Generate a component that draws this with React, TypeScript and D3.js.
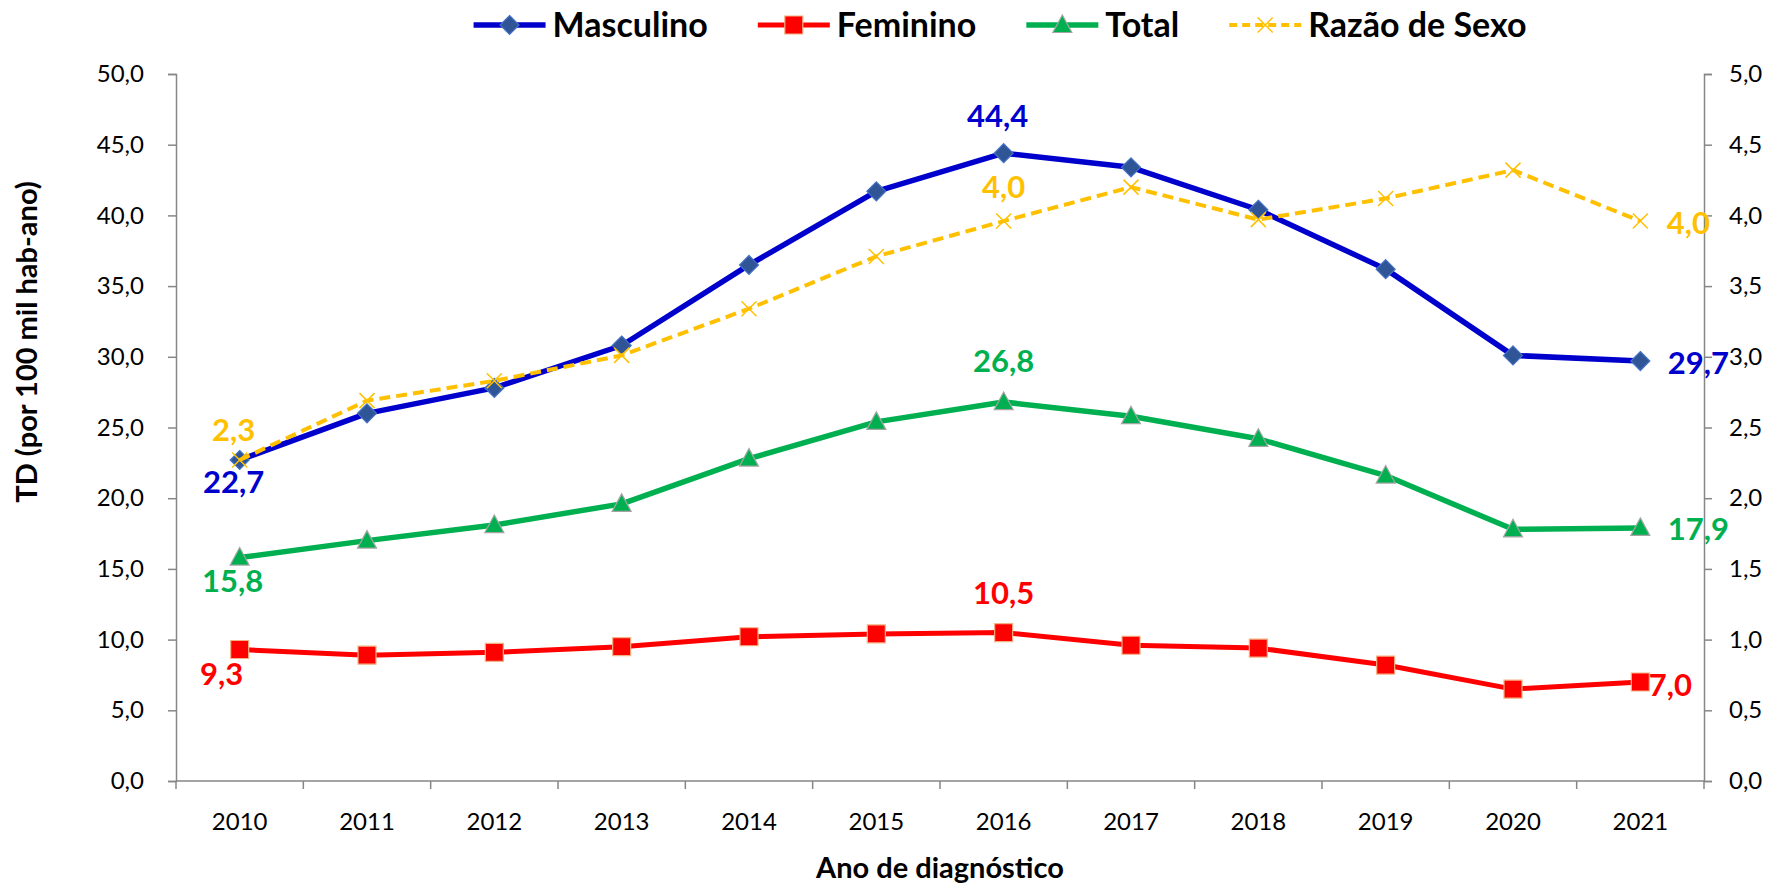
import React, { useEffect, useRef } from 'react';
import * as d3 from 'd3';

const years = ['2010', '2011', '2012', '2013', '2014', '2015', '2016', '2017', '2018', '2019', '2020', '2021'];
const masculino = [22.7, 26.0, 27.8, 30.8, 36.5, 41.7, 44.4, 43.4, 40.4, 36.2, 30.1, 29.7];
const feminino = [9.3, 8.9, 9.1, 9.5, 10.2, 10.4, 10.5, 9.6, 9.4, 8.2, 6.5, 7.0];
const total = [15.8, 17.0, 18.1, 19.6, 22.8, 25.4, 26.8, 25.8, 24.2, 21.6, 17.8, 17.9];
const razaoSexo = [2.27, 2.69, 2.83, 3.01, 3.34, 3.71, 3.96, 4.2, 3.97, 4.12, 4.32, 3.96];
const leftTicks = [0, 5, 10, 15, 20, 25, 30, 35, 40, 45, 50];
const rightTicks = [0, 0.5, 1, 1.5, 2, 2.5, 3, 3.5, 4, 4.5, 5];

// which points carry a value label, and where the label sits relative to the point
const labelSpots = [
  { series: 'Masculino', i: 0, dx: -6, dy: 22 },
  { series: 'Masculino', i: 6, dx: -6, dy: -37 },
  { series: 'Masculino', i: 11, dx: 58, dy: 2 },
  { series: 'Feminino', i: 0, dx: -18, dy: 25 },
  { series: 'Feminino', i: 6, dx: 0, dy: -39 },
  { series: 'Feminino', i: 11, dx: 30, dy: 3 },
  { series: 'Total', i: 0, dx: -7, dy: 24 },
  { series: 'Total', i: 6, dx: 0, dy: -41 },
  { series: 'Total', i: 11, dx: 58, dy: 1 },
  { series: 'Razão de Sexo', i: 0, dx: -6, dy: -30 },
  { series: 'Razão de Sexo', i: 6, dx: 0, dy: -34 },
  { series: 'Razão de Sexo', i: 11, dx: 48, dy: 2 },
];

const FONT = 'Lato, "Open Sans", sans-serif';
const fmt = (v: number) => d3.format('.1f')(v).replace('.', ',');

const markerPath: Record<string, string> = {
  diamond: 'M0,-9.5L9.5,0L0,9.5L-9.5,0Z',
  square: 'M-9,-9H9V9H-9Z',
  triangle: 'M0,-10L9.5,7.5L-9.5,7.5Z',
  cross: 'M-7.5,-7.5L7.5,7.5M7.5,-7.5L-7.5,7.5',
};

const App = () => {
  const svgRef = useRef<SVGSVGElement>(null);

  useEffect(() => {
    const svg = d3.select(svgRef.current);
    svg.selectAll('*').remove();

    const W = 1767;
    const H = 883;
    const margin = { top: 74, right: 63, bottom: 102, left: 176 };
    const plotW = W - margin.left - margin.right;
    const plotH = H - margin.top - margin.bottom;

    const x = d3.scaleBand().domain(years).range([0, plotW]).padding(0);
    const yLeft = d3.scaleLinear().domain([0, 50]).range([plotH, 0]);
    const yRight = d3.scaleLinear().domain([0, 5]).range([plotH, 0]);
    const cx = (d: string) => (x(d) as number) + x.bandwidth() / 2;

    const series = [
      { name: 'Masculino', values: masculino, y: yLeft, color: '#0000CC', width: 5.5, dash: null, marker: 'diamond', fill: '#2F5597', stroke: '#4472C4' },
      { name: 'Feminino', values: feminino, y: yLeft, color: '#FF0000', width: 5, dash: null, marker: 'square', fill: '#FF0000', stroke: '#F4B183' },
      { name: 'Total', values: total, y: yLeft, color: '#00B050', width: 5.5, dash: null, marker: 'triangle', fill: '#00B050', stroke: '#A5A5A5' },
      { name: 'Razão de Sexo', values: razaoSexo, y: yRight, color: '#FFC000', width: 4, dash: '11,6', marker: 'cross', fill: 'none', stroke: '#FFC000' },
    ];

    const g = svg.append('g').attr('transform', `translate(${margin.left},${margin.top})`);
    const axisColor = '#868686';
    const tickFont = 24;

    // left axis
    const la = g.append('g').call(d3.axisLeft(yLeft).tickValues(leftTicks).tickSize(8).tickPadding(24).tickFormat((d) => fmt(+d)));
    la.select('.domain').attr('stroke', axisColor).attr('stroke-width', 1.5);
    la.selectAll('.tick line').attr('stroke', axisColor).attr('stroke-width', 1.5);
    la.selectAll('.tick text').attr('font-family', FONT).attr('font-size', tickFont).attr('fill', '#000');

    // right axis
    const ra = g.append('g').attr('transform', `translate(${plotW},0)`)
      .call(d3.axisRight(yRight).tickValues(rightTicks).tickSize(8).tickPadding(17).tickFormat((d) => fmt(+d)));
    ra.select('.domain').attr('stroke', axisColor).attr('stroke-width', 1.5);
    ra.selectAll('.tick line').attr('stroke', axisColor).attr('stroke-width', 1.5);
    ra.selectAll('.tick text').attr('font-family', FONT).attr('font-size', tickFont).attr('fill', '#000');

    // x axis: ticks on category boundaries
    const xa = g.append('g').attr('transform', `translate(0,${plotH})`);
    xa.append('line').attr('x1', 0).attr('x2', plotW).attr('stroke', axisColor).attr('stroke-width', 1.5);
    const bounds = years.map((d) => x(d) as number).concat([plotW]);
    xa.selectAll('line.tk').data(bounds).join('line').attr('class', 'tk')
      .attr('x1', (d) => d).attr('x2', (d) => d).attr('y1', 0).attr('y2', 8)
      .attr('stroke', axisColor).attr('stroke-width', 1.5);
    xa.selectAll('text').data(years).join('text')
      .attr('x', (d) => cx(d)).attr('y', 41).attr('dy', '0.35em')
      .attr('text-anchor', 'middle').attr('font-family', FONT).attr('font-size', tickFont).text((d) => d);

    // axis titles
    svg.append('text').attr('x', margin.left + plotW / 2).attr('y', 878)
      .attr('text-anchor', 'middle').attr('font-family', FONT).attr('font-weight', 'bold').attr('font-size', 29)
      .text('Ano de diagnóstico');
    svg.append('text').attr('transform', 'translate(27,342) rotate(-90)')
      .attr('text-anchor', 'middle').attr('dy', '0.35em').attr('font-family', FONT).attr('font-weight', 'bold').attr('font-size', 29)
      .text('TD (por 100 mil hab-ano)');

    // lines and markers
    series.forEach((s) => {
      const line = d3.line<number>().x((_, i) => cx(years[i])).y((v) => s.y(v));
      g.append('path').datum(s.values).attr('fill', 'none').attr('stroke', s.color)
        .attr('stroke-width', s.width).attr('stroke-dasharray', s.dash).attr('stroke-linejoin', 'round')
        .attr('d', line);
      g.append('g').selectAll('path').data(s.values).join('path')
        .attr('transform', (v, i) => `translate(${cx(years[i])},${s.y(v)})`)
        .attr('d', markerPath[s.marker])
        .attr('fill', s.fill).attr('stroke', s.stroke)
        .attr('stroke-width', s.marker === 'cross' ? 1.5 : 1.2);
    });

    // value labels
    labelSpots.forEach((l) => {
      const s = series.find((d) => d.name === l.series)!;
      const v = s.values[l.i];
      g.append('text')
        .attr('x', cx(years[l.i]) + l.dx).attr('y', s.y(v) + l.dy).attr('dy', '0.35em')
        .attr('text-anchor', 'middle').attr('font-family', FONT).attr('font-weight', 'bold').attr('font-size', 31)
        .attr('fill', s.color).text(fmt(v));
    });

    // legend, centred above the plot
    const lg = svg.append('g').attr('transform', 'translate(0,25)');
    const items = series.map((s) => {
      const it = lg.append('g');
      it.append('line').attr('x1', 0).attr('x2', 72).attr('stroke', s.color).attr('stroke-width', s.width)
        .attr('stroke-dasharray', s.dash ? '8,5' : null);
      it.append('path').attr('transform', 'translate(36,0)').attr('d', markerPath[s.marker])
        .attr('fill', s.fill).attr('stroke', s.stroke).attr('stroke-width', s.marker === 'cross' ? 1.5 : 1.2);
      const t = it.append('text').attr('x', 79).attr('dy', '0.35em').attr('font-family', FONT)
        .attr('font-weight', 'bold').attr('font-size', 34).text(s.name);
      const w = 79 + (t.node() as SVGTextElement).getComputedTextLength();
      return { it, w };
    });
    const gap = 50;
    const totalW = d3.sum(items, (d) => d.w) + gap * (items.length - 1);
    let pos = 1000 - totalW / 2;
    items.forEach((d) => {
      d.it.attr('transform', `translate(${pos},0)`);
      pos += d.w + gap;
    });
  }, []);

  return (
    <svg ref={svgRef} width={1767} height={883} style={{ position: 'absolute', left: 0, top: 0, background: '#fff' }}></svg>
  );
};

export default App;
